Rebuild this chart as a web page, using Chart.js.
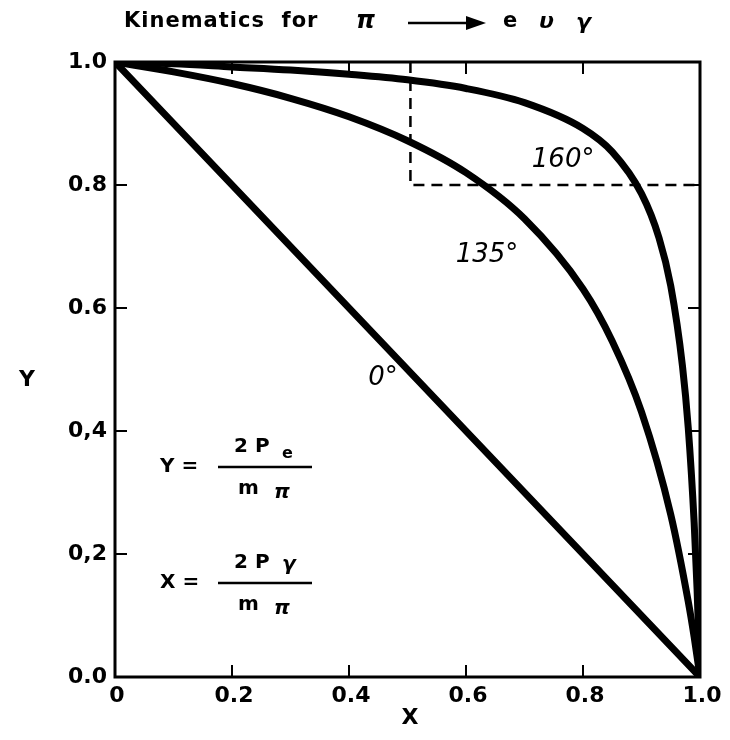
<!DOCTYPE html>
<html>
<head>
    <title>Kinematics for pi -> e nu gamma</title>
    <script src="https://cdn.jsdelivr.net/npm/chart.js"></script>
    <style>
        body { margin: 0; background: #fff; }
        #wrap { width: 730px; height: 740px; }
    </style>
</head>
<body>
    <div id="wrap"><canvas id="kin" width="730" height="740"></canvas></div>

    <script>
        // values
        const x0 = [0, 1];
        const y0 = [1, 0];

        const x135 = [0, 0.1, 0.2, 0.3, 0.4, 0.5, 0.6, 0.7, 0.8, 0.85, 0.9, 0.95, 0.98, 0.99, 1.0];
        const y135 = [1, 0.984, 0.965, 0.941, 0.911, 0.872, 0.820, 0.745, 0.631, 0.546, 0.431, 0.264, 0.122, 0.065, 0];

        const x160 = [0, 0.1, 0.2, 0.3, 0.4, 0.5, 0.6, 0.7, 0.8, 0.85, 0.9, 0.93, 0.95, 0.97, 0.98, 0.99, 0.995, 1.0];
        const y160 = [1, 0.997, 0.992, 0.987, 0.980, 0.971, 0.957, 0.934, 0.892, 0.854, 0.786, 0.714, 0.636, 0.506, 0.404, 0.251, 0.143, 0];

        // dashed box in the upper right corner
        const boxX = [0.505, 0.505, 1.0];
        const boxY = [1.0, 0.8, 0.8];

        const xTicks = [0, 0.2, 0.4, 0.6, 0.8, 1.0];
        const xTickLabels = ['0', '0.2', '0.4', '0.6', '0.8', '1.0'];
        const yTicks = [0, 0.2, 0.4, 0.6, 0.8, 1.0];
        const yTickLabels = ['0.0', '0,2', '0,4', '0.6', '0.8', '1.0'];

        const curveLabels = [
            { text: '160°', x: 0.766, y: 0.84 },
            { text: '135°', x: 0.636, y: 0.686 },
            { text: '0°', x: 0.458, y: 0.486 }
        ];

        const pts = (xs, ys) => xs.map((x, i) => ({ x: x, y: ys[i] }));

        // frame, inward ticks and all the lettering
        const decor = {
            id: 'decor',
            afterDatasetsDraw(chart) {
                const ctx = chart.ctx;
                const sx = chart.scales.x, sy = chart.scales.y;
                const a = chart.chartArea;
                ctx.save();
                ctx.strokeStyle = '#000';
                ctx.fillStyle = '#000';

                ctx.lineWidth = 3;
                ctx.strokeRect(a.left, a.top, a.right - a.left, a.bottom - a.top);

                ctx.lineWidth = 2;
                xTicks.forEach(v => {
                    const px = sx.getPixelForValue(v);
                    ctx.beginPath();
                    ctx.moveTo(px, a.bottom); ctx.lineTo(px, a.bottom - 12);
                    ctx.moveTo(px, a.top); ctx.lineTo(px, a.top + 12);
                    ctx.stroke();
                });
                yTicks.forEach(v => {
                    const py = sy.getPixelForValue(v);
                    ctx.beginPath();
                    ctx.moveTo(a.left, py); ctx.lineTo(a.left + 12, py);
                    ctx.moveTo(a.right, py); ctx.lineTo(a.right - 12, py);
                    ctx.stroke();
                });

                ctx.font = 'bold 22px "DejaVu Sans"';
                ctx.textAlign = 'center';
                ctx.textBaseline = 'top';
                xTickLabels.forEach((t, i) => {
                    ctx.fillText(t, sx.getPixelForValue(xTicks[i]) + 2, a.bottom + 8);
                });
                ctx.textAlign = 'right';
                ctx.textBaseline = 'middle';
                yTickLabels.forEach((t, i) => {
                    ctx.fillText(t, a.left - 8, sy.getPixelForValue(yTicks[i]));
                });

                // axis titles
                ctx.textAlign = 'center';
                ctx.fillText('Y', 27, 380);
                ctx.fillText('X', 410, 718);

                // title
                ctx.font = 'bold 21px "DejaVu Sans"';
                ctx.textAlign = 'left';
                ctx.letterSpacing = '1px';
                ctx.fillText('Kinematics  for', 124, 22);
                ctx.letterSpacing = '0px';
                ctx.font = 'bold italic 24px "DejaVu Sans"';
                ctx.fillText('\u03c0', 356, 22);
                ctx.lineWidth = 2.5;
                ctx.beginPath();
                ctx.moveTo(408, 23); ctx.lineTo(470, 23);
                ctx.stroke();
                ctx.beginPath();
                ctx.moveTo(486, 23); ctx.lineTo(466, 16); ctx.lineTo(466, 30);
                ctx.closePath(); ctx.fill();
                ctx.font = 'bold 21px "DejaVu Sans"';
                ctx.fillText('e', 503, 22);
                ctx.font = 'bold italic 22px "DejaVu Sans"';
                ctx.fillText('\u03c5', 539, 22);
                ctx.fillText('\u03b3', 576, 23);

                // curve angle labels
                ctx.font = 'italic 26px "DejaVu Sans"';
                ctx.textAlign = 'center';
                curveLabels.forEach(l => {
                    ctx.fillText(l.text, sx.getPixelForValue(l.x), sy.getPixelForValue(l.y));
                });

                // definitions of X and Y
                const fraction = (lhs, top, cy) => {
                    ctx.font = 'bold 20px "DejaVu Sans"';
                    ctx.textAlign = 'left';
                    ctx.fillText(lhs, 160, cy);
                    ctx.lineWidth = 2.5;
                    ctx.beginPath();
                    ctx.moveTo(218, cy); ctx.lineTo(312, cy);
                    ctx.stroke();
                    ctx.fillText(top, 234, cy - 20);
                    ctx.fillText('m', 238, cy + 22);
                    ctx.font = 'bold italic 20px "DejaVu Sans"';
                    ctx.fillText('\u03c0', 274, cy + 26);
                };
                fraction('Y =', '2 P', 467);
                ctx.font = 'bold 16px "DejaVu Sans"';
                ctx.fillText('e', 282, 454);
                fraction('X =', '2 P', 583);
                ctx.font = 'bold italic 20px "DejaVu Sans"';
                ctx.fillText('\u03b3', 282, 565);

                ctx.restore();
            }
        };

        const curve = (data) => ({
            data: data,
            showLine: true,
            borderColor: '#000',
            borderWidth: 7,
            pointRadius: 0,
            cubicInterpolationMode: 'monotone',
            borderCapStyle: 'round',
            borderJoinStyle: 'round'
        });

        new Chart(document.getElementById('kin'), {
            type: 'scatter',
            data: {
                datasets: [
                    curve(pts(x0, y0)),
                    curve(pts(x135, y135)),
                    curve(pts(x160, y160)),
                    {
                        data: pts(boxX, boxY),
                        showLine: true,
                        borderColor: '#000',
                        borderWidth: 2.5,
                        borderDash: [11, 7],
                        pointRadius: 0,
                        tension: 0
                    }
                ]
            },
            options: {
                responsive: false,
                animation: false,
                layout: { padding: { left: 115, right: 30, top: 62, bottom: 63 } },
                plugins: { legend: { display: false }, tooltip: { enabled: false } },
                scales: {
                    x: { type: 'linear', min: 0, max: 1, display: false },
                    y: { type: 'linear', min: 0, max: 1, display: false }
                }
            },
            plugins: [decor]
        });
    </script>
</body>
</html>
